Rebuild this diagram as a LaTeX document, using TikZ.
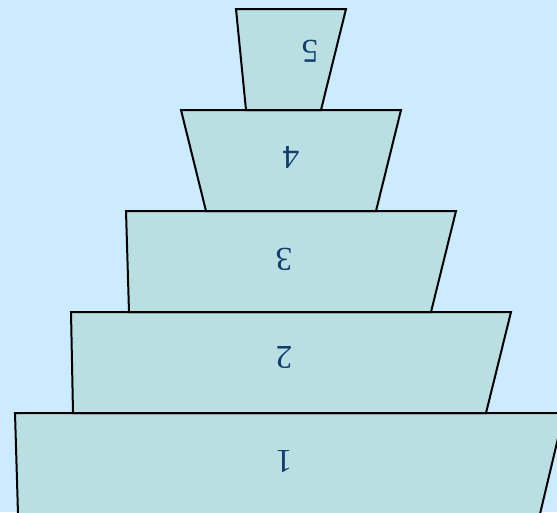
\documentclass[tikz,border=0pt]{standalone}
\usepackage{fontspec}
\setmainfont{Liberation Serif}
\definecolor{skybg}{RGB}{204,235,255}
\definecolor{layerfill}{RGB}{185,223,226}
\definecolor{labelblue}{RGB}{16,60,110}
\tikzset{
  layer/.style={fill=layerfill,draw=black,line width=1.5pt,line join=miter},
  layerlabel/.style={inner sep=0pt,outer sep=0pt,rotate=180,text=labelblue,font=\fontsize{25}{30}\selectfont}
}
\begin{document}
\begin{tikzpicture}[x=.75pt,y=-.75pt]
\path[use as bounding box,fill=skybg] (0,0) rectangle (557,512);
\begin{scope}
\clip (0,0) rectangle (557,512);
% layers, bottom to top
\path[layer] (15,413) -- (564,413) -- (540,514) -- (18,514) -- cycle;
\path[layer] (71,312) -- (511,312) -- (486,413) -- (73,413) -- cycle;
\path[layer] (126,211) -- (456,211) -- (431,312) -- (129,312) -- cycle;
\path[layer] (181,110) -- (401,110) -- (376,211) -- (206,211) -- cycle;
\path[layer] (236,9) -- (346,9) -- (321,110) -- (246,110) -- cycle;
\end{scope}
% labels
\node[layerlabel] (lbl1) at (284,461) {1};
\node[layerlabel] (lbl2) at (284,358) {2};
\node[layerlabel] (lbl3) at (284,259) {3};
\node[layerlabel] (lbl4) at (291,157) {4};
\node[layerlabel] (lbl5) at (310,51) {5};
\end{tikzpicture}
\end{document}
